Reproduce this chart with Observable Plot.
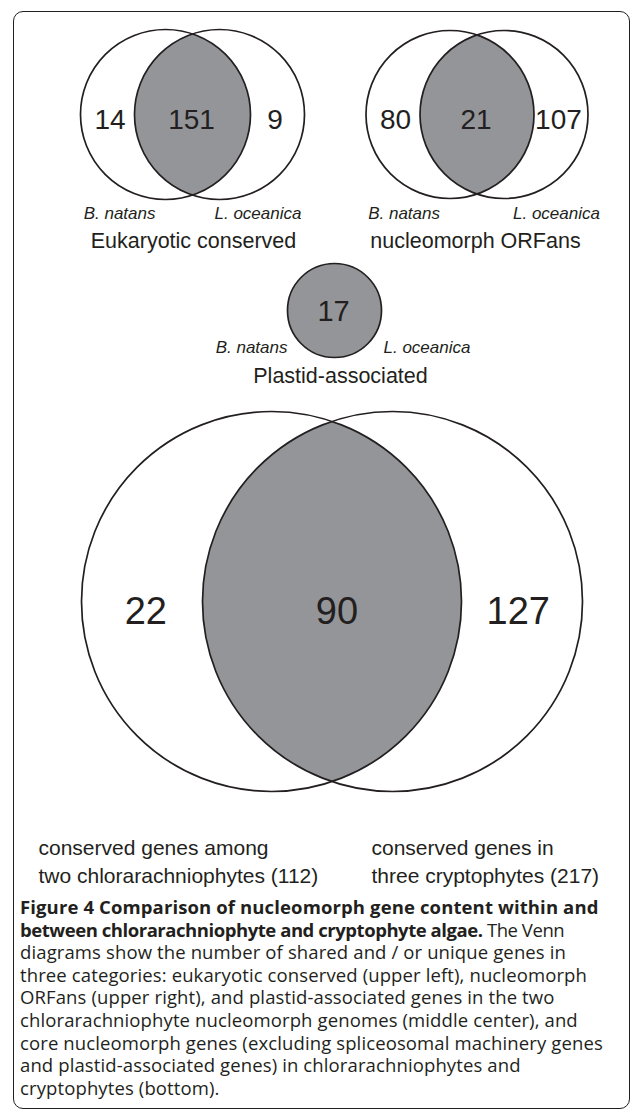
<!DOCTYPE html>
<html><head><meta charset="utf-8">
<script src="https://cdn.jsdelivr.net/npm/d3@7"></script>
<script src="https://cdn.jsdelivr.net/npm/@observablehq/plot@0.6"></script>
<style>
html,body{margin:0;padding:0;background:#fff;}
body{width:633px;height:1116px;position:relative;overflow:hidden;font-family:"Liberation Sans",Arial,sans-serif;}
#frame{position:absolute;left:13px;top:11px;width:617px;height:1098px;border:1.6px solid #231f20;border-radius:10px;box-sizing:border-box;}
#chart{position:absolute;left:0;top:0;}
#caption{position:absolute;left:20px;top:896px;width:610px;font-family:"Open Sans",sans-serif;font-size:18.5px;letter-spacing:0.12px;line-height:22.6px;color:#231f20;}
#caption div{white-space:pre;height:22.6px;}
#caption div.tight{letter-spacing:-0.45px;}
#caption b{font-weight:700;}
</style></head><body>
<div id="frame"></div>
<div id="chart"></div>
<div id="caption"></div>
<script>
// ---- data ----
const panels = ["Eukaryotic conserved", "nucleomorph ORFans", "Plastid-associated", "core nucleomorph genes"];
const leftOnly = [14, 80, 0, 22];
const shared = [151, 21, 17, 90];
const rightOnly = [9, 107, 0, 127];
const leftSet = ["B. natans", "B. natans", "B. natans", "conserved genes among\ntwo chlorarachniophytes (112)"];
const rightSet = ["L. oceanica", "L. oceanica", "L. oceanica", "conserved genes in\nthree cryptophytes (217)"];
const captionBold = ["Figure 4 Comparison of nucleomorph gene content within and", "between chlorarachniophyte and cryptophyte algae."];
const captionText = [
  " The Venn",
  "diagrams show the number of shared and / or unique genes in",
  "three categories: eukaryotic conserved (upper left), nucleomorph",
  "ORFans (upper right), and plastid-associated genes in the two",
  "chlorarachniophyte nucleomorph genomes (middle center), and",
  "core nucleomorph genes (excluding spliceosomal machinery genes",
  "and plastid-associated genes) in chlorarachniophytes and",
  "cryptophytes (bottom)."
];

// ---- layout (positions in page pixels) ----
const layout = [
  {mx: 192, cy: 114, r: 85, d: 54, numDy: 6, numSize: 28, numK: 0.97, labDy: 104, labL: -37, labR: 22, titleX: 193, titleY: 247},
  {mx: 476.5, cy: 114, r: 84, d: 54, numDy: 6, numSize: 28, numK: 0.97, labDy: 104, labL: -37, labR: 36, titleX: 475, titleY: 247},
  {mx: 334, cy: 310, r: 47, d: 0, numDy: 1, numSize: 29, numK: 0, labDy: 42, labL: -47, labR: 49, titleX: 340, titleY: 382},
  {mx: 331.5, cy: 601, r: 190, d: 121, numDy: 10, numSize: 38, numK: 0.98, labL: 38, labR: 371, labY: 834}
];

const W = 633, H = 895;
const ink = "#231f20", gray = "#939598";

// circles
const circles = [];
panels.forEach((p, i) => {
  const L = layout[i];
  circles.push({panel: p, x: L.mx - L.d / 2, y: L.cy, r: L.r});
  if (L.d > 0) circles.push({panel: p, x: L.mx + L.d / 2, y: L.cy, r: L.r});
});

// lens (intersection) outlines
const lens = [];
panels.forEach((p, i) => {
  const L = layout[i];
  const th = Math.acos(Math.min(1, (L.d / 2) / L.r));
  const n = 90;
  const ax = L.mx - L.d / 2, bx = L.mx + L.d / 2;
  for (let k = 0; k <= n; k++) {
    const t = -th + (2 * th * k) / n;
    lens.push({panel: p, x: ax + L.r * Math.cos(t), y: L.cy + L.r * Math.sin(t)});
  }
  for (let k = 0; k <= n; k++) {
    const t = Math.PI - th + (2 * th * k) / n;
    lens.push({panel: p, x: bx + L.r * Math.cos(t), y: L.cy + L.r * Math.sin(t)});
  }
});

// numbers
const nums = [];
panels.forEach((p, i) => {
  const L = layout[i];
  const y = L.cy + L.numDy;
  if (L.d > 0) nums.push({x: L.mx - L.numK * L.r, y, text: String(leftOnly[i]), size: L.numSize});
  nums.push({x: L.mx + (i === 3 ? 5 : -1), y, text: String(shared[i]), size: L.numSize});
  if (L.d > 0) nums.push({x: L.mx + L.numK * L.r, y, text: String(rightOnly[i]), size: L.numSize});
});

const small = [0, 1, 2];
const leftLabs = small.map(i => ({x: layout[i].mx + layout[i].labL, y: layout[i].cy + layout[i].labDy, text: leftSet[i]}));
const rightLabs = small.map(i => ({x: layout[i].mx + layout[i].labR, y: layout[i].cy + layout[i].labDy, text: rightSet[i]}));
const titles = small.map(i => ({x: layout[i].titleX, y: layout[i].titleY, text: panels[i]}));
const bigLabs = [
  {x: layout[3].labL, y: layout[3].labY, text: leftSet[3]},
  {x: layout[3].labR, y: layout[3].labY, text: rightSet[3]}
];

const chart = Plot.plot({
  width: W, height: H,
  margin: 0,
  x: {domain: [0, W], range: [0, W], axis: null},
  y: {domain: [0, H], range: [0, H], axis: null},
  r: {type: "identity"},
  style: {fontFamily: "'Liberation Sans', Arial, sans-serif", color: ink, background: "transparent"},
  marks: [
    Plot.line(lens, {x: "x", y: "y", z: "panel", fill: gray, stroke: "none", curve: "linear-closed"}),
    Plot.dot(circles, {x: "x", y: "y", r: "r", stroke: ink, strokeWidth: 1.7, fill: "none"}),
    Plot.text(nums, {x: "x", y: "y", text: "text", fontSize: "size", fill: ink, lineAnchor: "middle"}),
    Plot.text(leftLabs, {x: "x", y: "y", text: "text", fontSize: 17, fontStyle: "italic", textAnchor: "end", lineAnchor: "bottom", fill: ink}),
    Plot.text(rightLabs, {x: "x", y: "y", text: "text", fontSize: 17, fontStyle: "italic", textAnchor: "start", lineAnchor: "bottom", fill: ink}),
    Plot.text(titles, {x: "x", y: "y", text: "text", fontSize: 21.5, lineAnchor: "bottom", fill: ink}),
    Plot.text(bigLabs, {x: "x", y: "y", text: "text", fontSize: 21, lineHeight: 1.36, textAnchor: "start", lineAnchor: "top", fill: ink})
  ]
});
document.getElementById("chart").appendChild(chart);

// caption
const cap = document.getElementById("caption");
const esc = s => s.replace(/&/g, "&amp;").replace(/</g, "&lt;");
const lines = [
  `<b>${esc(captionBold[0])}</b>`,
  `<b>${esc(captionBold[1])}</b>${esc(captionText[0])}`,
  ...captionText.slice(1).map(esc)
];
cap.innerHTML = lines.map((l, i) => `<div${i === 1 ? ' class="tight"' : ''}>${l}</div>`).join("");
</script>
</body></html>
